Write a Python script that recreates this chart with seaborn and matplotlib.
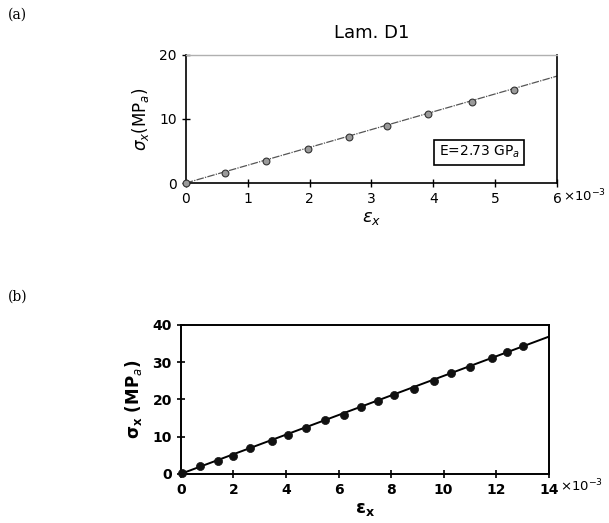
"""
Stress-strain curves for laminate D1 (panels a and b).
"""

import matplotlib.pyplot as plt
import pandas as pd
import seaborn as sns

# panel (a): strain (x10^-3) vs stress (MPa)
STRAIN_A = [0.0, 0.64, 1.30, 1.97, 2.63, 3.25, 3.92, 4.63, 5.30]
STRESS_A = [0.0, 1.6, 3.4, 5.3, 7.2, 8.9, 10.8, 12.7, 14.6]
FIT_A_X = [0.0, 6.0]
FIT_A_Y = [0.0, 16.7]

# panel (b)
STRAIN_B = [0.03, 0.72, 1.42, 1.99, 2.65, 3.45, 4.08, 4.78, 5.50, 6.20,
            6.87, 7.50, 8.10, 8.87, 9.63, 10.29, 10.99, 11.85, 12.41, 13.02]
STRESS_B = [0.1, 2.1, 3.5, 4.9, 6.8, 8.8, 10.4, 12.2, 14.4, 15.8,
            18.0, 19.6, 21.1, 22.9, 24.9, 27.0, 28.6, 31.0, 32.6, 34.2]
FIT_B_X = [0.0, 14.0]
FIT_B_Y = [0.0, 36.8]

XTICKS_A = [0, 1, 2, 3, 4, 5, 6]
YTICKS_A = [0, 10, 20]
XTICKS_B = [0, 2, 4, 6, 8, 10, 12, 14]
YTICKS_B = [0, 10, 20, 30, 40]

sns.set_style("ticks")
plt.rcParams["font.family"] = ["DejaVu Sans"]
plt.rcParams["text.color"] = "black"
plt.rcParams["axes.labelcolor"] = "black"
plt.rcParams["xtick.color"] = "black"
plt.rcParams["ytick.color"] = "black"

fig = plt.figure(figsize=(6.09, 5.23), dpi=100)
ax_a = fig.add_axes([0.305, 0.650, 0.610, 0.245])
ax_b = fig.add_axes([0.297, 0.094, 0.604, 0.285])

df_a = pd.DataFrame({"strain": STRAIN_A, "stress": STRESS_A})
df_b = pd.DataFrame({"strain": STRAIN_B, "stress": STRESS_B})

# panel (a)
sns.lineplot(x=FIT_A_X, y=FIT_A_Y, ax=ax_a, color="#555555",
             linewidth=0.9, linestyle=(0, (6, 1, 1, 1)))
sns.scatterplot(data=df_a, x="strain", y="stress", ax=ax_a, marker="o",
                s=24, color="#9a9a9a", edgecolor="#333333", linewidth=0.8,
                zorder=3, clip_on=False)
ax_a.set_xlim(0, 6)
ax_a.set_ylim(0, 20)
ax_a.set_xticks(XTICKS_A)
ax_a.set_yticks(YTICKS_A)
ax_a.tick_params(direction="inout", length=6, width=1.0, labelsize=10)
for side in ["left", "bottom", "right"]:
    ax_a.spines[side].set_linewidth(1.2)
    ax_a.spines[side].set_color("black")
ax_a.spines["top"].set_color("#b0b0b0")
ax_a.spines["top"].set_linestyle((0, (3, 1)))
ax_a.spines["top"].set_linewidth(1.0)
ax_a.set_xlabel(r"$\epsilon_x$", fontsize=13, labelpad=2)
ax_a.set_ylabel(r"$\sigma_x$(MP$_a$)", fontsize=12, labelpad=6)
ax_a.set_title("Lam. D1", fontsize=13, pad=12)
ax_a.annotate(r"$\times 10^{-3}$", xy=(1, 0), xycoords="axes fraction",
              xytext=(4, -3), textcoords="offset points",
              fontsize=9.5, va="top", ha="left")
ax_a.text(0.79, 0.24, r"E=2.73 GP$_a$", transform=ax_a.transAxes,
          fontsize=10, ha="center", va="center",
          bbox=dict(boxstyle="square,pad=0.3", facecolor="white",
                    edgecolor="black", linewidth=1.2))

# panel (b)
sns.lineplot(x=FIT_B_X, y=FIT_B_Y, ax=ax_b, color="black", linewidth=1.4)
sns.scatterplot(data=df_b, x="strain", y="stress", ax=ax_b, marker="o",
                s=34, color="#111111", edgecolor="#111111", linewidth=0.5,
                zorder=3, clip_on=False)
ax_b.set_xlim(0, 14)
ax_b.set_ylim(0, 40)
ax_b.set_xticks(XTICKS_B)
ax_b.set_yticks(YTICKS_B)
ax_b.tick_params(direction="inout", length=6, width=1.2, labelsize=10)
for label in ax_b.get_xticklabels() + ax_b.get_yticklabels():
    label.set_fontweight("bold")
for side in ["left", "bottom", "right", "top"]:
    ax_b.spines[side].set_linewidth(1.4)
    ax_b.spines[side].set_color("black")
ax_b.set_xlabel(r"$\mathbf{\epsilon_x}$", fontsize=13, labelpad=2)
ax_b.set_ylabel(r"$\mathbf{\sigma_x}$ (MP$_a$)", fontsize=12,
                fontweight="bold", labelpad=6)
ax_b.annotate(r"$\times 10^{-3}$", xy=(1, 0), xycoords="axes fraction",
              xytext=(8, -3), textcoords="offset points",
              fontsize=9.5, va="top", ha="left")

# panel letters
fig.text(0.013, 0.972, "(a)", fontsize=10, family="DejaVu Serif", va="center")
fig.text(0.013, 0.432, "(b)", fontsize=10, family="DejaVu Serif", va="center")

fig.savefig("out.png", dpi=100)
